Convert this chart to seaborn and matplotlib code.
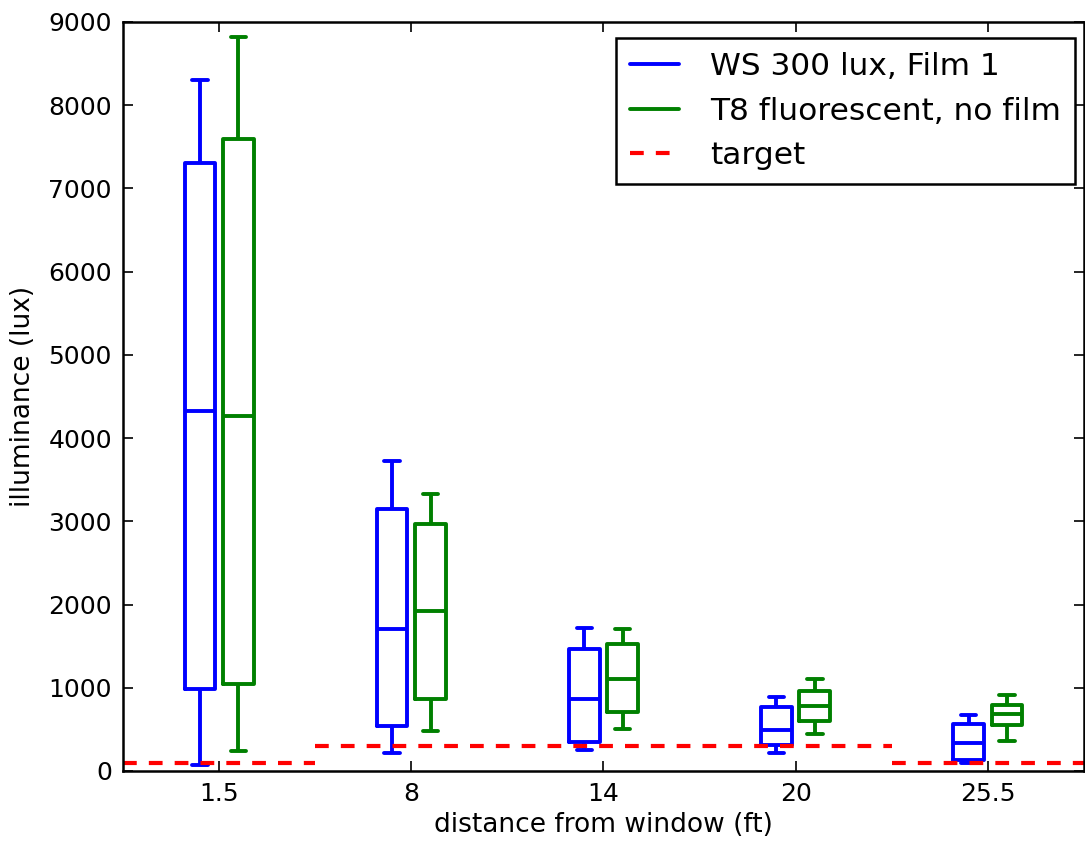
import pandas as pd
import numpy as np
import matplotlib.pyplot as plt
from matplotlib.lines import Line2D
import seaborn as sns

distances = ['1.5', '8', '14', '20', '25.5']
series = ['WS 300 lux, Film 1', 'T8 fluorescent, no film']

# five-number summaries: min, q1, median, q3, max
ws_min = [70, 220, 250, 210, 90]
ws_q1 = [990, 540, 350, 310, 130]
ws_med = [4320, 1700, 870, 490, 340]
ws_q3 = [7300, 3150, 1470, 770, 560]
ws_max = [8300, 3730, 1720, 890, 670]

t8_min = [240, 480, 500, 440, 360]
t8_q1 = [1050, 870, 710, 600, 550]
t8_med = [4260, 1920, 1110, 780, 690]
t8_q3 = [7590, 2970, 1520, 960, 790]
t8_max = [8820, 3330, 1700, 1100, 910]

target = [100, 300, 300, 300, 100]

rows = []
for name, cols in [(series[0], [ws_min, ws_q1, ws_med, ws_q3, ws_max]),
                   (series[1], [t8_min, t8_q1, t8_med, t8_q3, t8_max])]:
    for i, d in enumerate(distances):
        for c in cols:
            rows.append({'distance': d, 'series': name, 'illuminance': c[i]})
df = pd.DataFrame(rows)

sns.set_style('ticks')
plt.rcParams['font.family'] = ['DejaVu Sans']
plt.rcParams['text.color'] = 'black'
plt.rcParams['axes.labelcolor'] = 'black'
plt.rcParams['xtick.color'] = 'black'
plt.rcParams['ytick.color'] = 'black'

fig = plt.figure(figsize=(10.85, 8.46), dpi=100)
ax = fig.add_axes([0.1134, 0.0887, 0.8856, 0.8853])

colors = {series[0]: '#0000ff', series[1]: '#008000'}
sns.boxplot(data=df, x='distance', y='illuminance', hue='series',
            order=distances, hue_order=series, palette=colors,
            fill=False, width=0.4, gap=0.2, whis=(0, 100),
            linewidth=2.8, legend=False, ax=ax)

# target line, one dashed run per block of equal values
start = 0
for i in range(1, len(target) + 1):
    if i == len(target) or target[i] != target[start]:
        ax.plot([start - 0.5, i - 0.5], [target[start], target[start]],
                color='red', lw=3, dashes=(3.3, 2.9), solid_capstyle='butt')
        start = i

ax.set_xlim(-0.5, 4.5)
ax.set_ylim(0, 9000)
ax.set_yticks(np.arange(0, 9001, 1000))
ax.set_xlabel('distance from window (ft)', fontsize=19)
ax.set_ylabel('illuminance (lux)', fontsize=19, labelpad=9)
ax.tick_params(direction='in', length=7, width=1.2, labelsize=18,
               top=True, right=True, pad=8)
for s in ax.spines.values():
    s.set_visible(True)
    s.set_linewidth(1.8)
    s.set_color('black')

handles = [Line2D([], [], color='#0000ff', lw=2.8),
           Line2D([], [], color='#008000', lw=2.8),
           Line2D([], [], color='red', lw=3, dashes=(3.3, 2.9))]
leg = ax.legend(handles, series + ['target'], loc='upper right',
                bbox_to_anchor=(0.9906, 0.9786), borderaxespad=0,
                fontsize=22.5, fancybox=False, framealpha=1,
                edgecolor='black', handlelength=1.55, handletextpad=1.0,
                labelspacing=0.5, borderpad=0.45)
leg.get_frame().set_linewidth(1.8)

fig.savefig('out.png', dpi=100)
